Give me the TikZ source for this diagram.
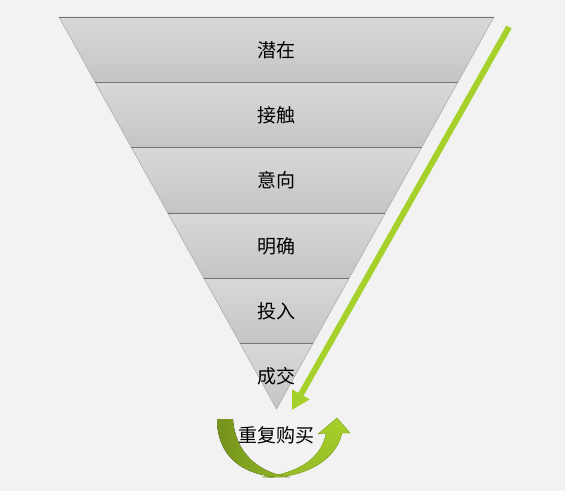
\documentclass[tikz,border=0pt]{standalone}
\usepackage{fontspec}
\setmainfont{Noto Sans CJK SC}
\usepackage{tikz}
\usetikzlibrary{arrows.meta}
\definecolor{bgcol}{RGB}{242,242,242}
\definecolor{bandtop}{RGB}{216,216,216}
\definecolor{bandbot}{RGB}{197,197,197}
\definecolor{limegreen}{RGB}{166,208,42}
\definecolor{arcdark}{RGB}{116,146,28}
\definecolor{arcmid}{RGB}{150,186,38}
\definecolor{arcedge}{RGB}{122,156,30}
\tikzstyle{band}=[draw=gray!75,top color=bandtop,bottom color=bandbot]
\tikzstyle{rim}=[draw=black!55,line width=0.8pt]
\tikzstyle{stage}=[font=\fontsize{19}{22}\selectfont,text=black]

\begin{document}
\begin{tikzpicture}[x=1pt,y=-1pt]
        \fill[bgcol] (0,0) rectangle (565,491);
        \useasboundingbox (0,0) rectangle (565,491);
        % funnel
        \foreach \t [count=\i from 0] in {潜在,接触,意向,明确,投入,成交} {
          \pgfmathsetmacro\ya{17+65.33*\i}
          \pgfmathsetmacro\yb{\ya+65.33}
          \pgfmathsetmacro\da{(\ya-17)*0.5548}
          \pgfmathsetmacro\db{(\yb-17)*0.5548}
          \draw[band] (59+\da,\ya) -- (494-\da,\ya) -- (494-\db,\yb) -- (59+\db,\yb) -- cycle;
          \draw[rim] (59+\da,\ya) -- (494-\da,\ya);
          \node at (276.5,\ya+33) [stage] (s\i) {\t};
        }
        % long arrow
        \coordinate (gstart) at (509,27);
        \coordinate (gend) at (292,410);
        \draw [-{Triangle[length=18pt,width=19pt]},line width=6pt,limegreen] (gstart) -- (gend);
        % repeat loop
        \draw [arcedge,line width=0.4pt,top color=limegreen,bottom color=arcmid]
          (262,477) .. controls (300,480) and (336,462) .. (342,433)
          -- (350,433) -- (337,418) -- (318,434) -- (326,433)
          .. controls (322,458) and (298,474) .. (262,477) -- cycle;
        \fill [left color=arcdark,right color=arcmid]
          (217,419) -- (233,419) .. controls (235,452) and (258,473) .. (290,477)
          .. controls (248,479) and (217,460) .. (217,419) -- cycle;
        \node at (276,435) [stage] (rb) {重复购买};
\end{tikzpicture}
\end{document}
